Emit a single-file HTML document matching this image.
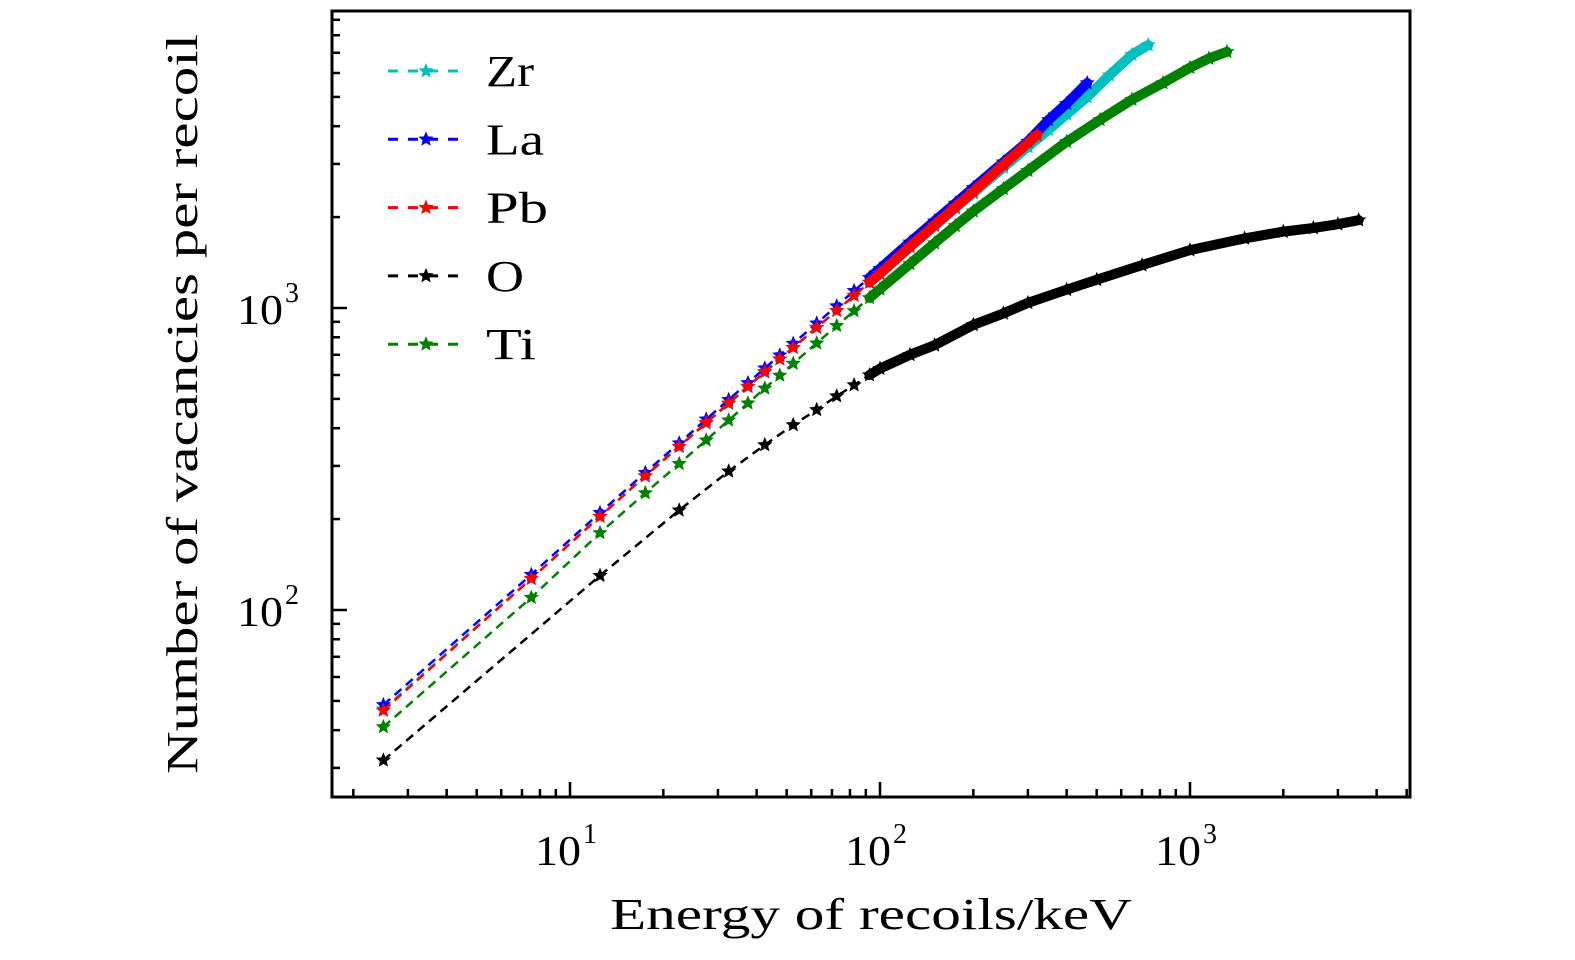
<!DOCTYPE html>
<html><head><meta charset="utf-8"><style>
body{margin:0;background:#fff}
svg text{font-family:"Liberation Serif",serif;fill:#000}
</style></head><body>
<svg id="chart" width="1575" height="955" xmlns="http://www.w3.org/2000/svg">
<g id="marks"></g>
<g id="axes"></g>
<g id="legend"></g>
<text x="610" y="929" font-size="44" textLength="522" lengthAdjust="spacingAndGlyphs">Energy of recoils/keV</text>
<text transform="translate(197,774) rotate(-90)" font-size="44" textLength="740" lengthAdjust="spacingAndGlyphs">Number of vacancies per recoil</text>
</svg>
<script>
const seriesNames = ["Zr","La","Pb","O","Ti"];
const seriesColors = ["#00bfbf","#0000ff","#ff0000","#000000","#008000"];
const zrE = [2.5,7.5,12.5,17.5,22.5,27.5,32.5,37.5,42.5,47.5,52.5,62.5,72.5,82.5,92.5,100,125,150,175,200,250,300,350,400,466,550,650,733];
const zrV = [47,127,204,277,347,415,482,548,612,676,738,860,980,1100,1215,1300,1590,1870,2140,2400,2920,3420,3900,4380,5000,5900,6900,7430];
const laE = [2.5,7.5,12.5,17.5,22.5,27.5,32.5,37.5,42.5,47.5,52.5,62.5,72.5,82.5,92.5,100,125,150,175,200,250,300,350,400,466];
const laV = [48.5,131,210,285,357,428,497,565,632,698,763,890,1015,1140,1260,1350,1650,1940,2220,2500,3040,3560,4200,4750,5560];
const pbE = [2.5,7.5,12.5,17.5,22.5,27.5,32.5,37.5,42.5,47.5,52.5,62.5,72.5,82.5,92.5,100,125,150,175,200,250,321];
const pbV = [46.5,127,204,278,348,417,484,550,615,678,740,862,980,1100,1215,1300,1600,1880,2160,2430,2980,3740];
const oE = [2.5,12.5,22.5,32.5,42.5,52.5,62.5,72.5,82.5,92.5,100,125,150,200,250,300,400,500,700,1000,1500,2000,2500,3000,3500];
const oV = [31.8,130,214,288,352,410,460,511,556,600,630,700,753,879,960,1040,1150,1240,1387,1555,1700,1790,1840,1895,1955];
const tiE = [2.5,7.5,12.5,17.5,22.5,27.5,32.5,37.5,42.5,47.5,52.5,62.5,72.5,82.5,92.5,100,125,150,175,200,250,300,400,513,650,818,1000,1150,1315];
const tiV = [41,110,180,244,305,365,425,484,542,598,655,765,873,978,1080,1155,1400,1640,1870,2090,2480,2850,3550,4200,4900,5560,6250,6700,7050];
const xTickLabels = ["1","2","3"];
const yTickLabels = ["2","3"];

const NS="http://www.w3.org/2000/svg";
const L=332,R=1410,T=11,B=797;
const X=e=>570+(Math.log10(e)-1)*310;
const Y=v=>610-(Math.log10(v)-2)*302;
function mk(tag,attrs,parent){const el=document.createElementNS(NS,tag);for(const k in attrs)el.setAttribute(k,attrs[k]);parent.appendChild(el);return el;}
function star(cx,cy,r){let p=[];for(let i=0;i<10;i++){const a=-Math.PI/2+i*Math.PI/5;const rr=i%2?r*0.45:r;p.push((cx+rr*Math.cos(a)).toFixed(1)+","+(cy+rr*Math.sin(a)).toFixed(1));}return p.join(" ");}

const marks=document.getElementById('marks');
const all=[[zrE,zrV],[laE,laV],[pbE,pbV],[oE,oV],[tiE,tiV]];
const order=[4,3,0,1,2];
order.forEach(si=>{
  const [E,V]=all[si];const c=seriesColors[si];
  const g=mk('g',{},marks);
  
  
  const pts=E.map((e,i)=>X(e).toFixed(1)+","+Y(V[i]).toFixed(1)).join(" ");
  const ln=mk('polyline',{points:pts,fill:'none',stroke:c,'stroke-width':2.5,'stroke-dasharray':'9,6'},g);
  
  
  const dense=E.map((e,i)=>[e,V[i]]).filter(d=>d[0]>=90);
  if(dense.length>1){
    const b=mk('polyline',{points:dense.map(d=>X(d[0]).toFixed(1)+","+Y(d[1]).toFixed(1)).join(" "),fill:'none',stroke:c,'stroke-width':10,'stroke-linecap':'round','stroke-linejoin':'round'},g);
    
    
  }
  E.forEach((e,i)=>{
    const s=mk('polygon',{points:star(X(e),Y(V[i]),8),fill:c},g);
    
    
  });
});

const axes=document.getElementById('axes');
const fr=mk('rect',{x:L,y:T,width:R-L,height:B-T,fill:'none',stroke:'#000','stroke-width':3},axes);


for(let d=0;d<=3;d++){for(let m=1;m<10;m++){const e=m*Math.pow(10,d);const x=X(e);if(x<L||x>R)continue;
  const t=mk('line',{x1:x,x2:x,y1:B,y2:B-(m==1?15:8),stroke:'#000','stroke-width':2.5},axes);
  
  }}
xTickLabels.forEach(p=>{const x=X(Math.pow(10,+p));
  const t=mk('text',{x:x-35,y:865,'font-size':42,textLength:46,lengthAdjust:'spacingAndGlyphs'},axes);t.textContent='10';
  
  
  const s=mk('text',{x:x+13,y:843,'font-size':28},axes);s.textContent=p;
  
  });
for(let d=1;d<=3;d++){for(let m=1;m<10;m++){const v=m*Math.pow(10,d);const y=Y(v);if(y<T||y>B)continue;
  const t=mk('line',{x1:L,x2:L+(m==1?15:8),y1:y,y2:y,stroke:'#000','stroke-width':2.5},axes);
  
  }}
yTickLabels.forEach(p=>{const y=Y(Math.pow(10,+p));
  const t=mk('text',{x:237,y:y+16,'font-size':42,textLength:46,lengthAdjust:'spacingAndGlyphs'},axes);t.textContent='10';
  
  
  const s=mk('text',{x:285,y:y-6,'font-size':28},axes);s.textContent=p;
  
  });

const leg=document.getElementById('legend');
const legW=[48,58,62,38,50];
seriesNames.forEach((n,i)=>{const y=71+i*68.3;const c=seriesColors[i];
  const g=mk('g',{},leg);
  
  
  mk('line',{x1:388,x2:465,y1:y,y2:y,stroke:c,'stroke-width':3,'stroke-dasharray':'10,10'},g);
  mk('polygon',{points:star(426,y,8),fill:c},g);
  const t=mk('text',{x:486,y:y+15,'font-size':44,textLength:legW[i],lengthAdjust:'spacingAndGlyphs'},g);t.textContent=n;
});
</script>
</body></html>
